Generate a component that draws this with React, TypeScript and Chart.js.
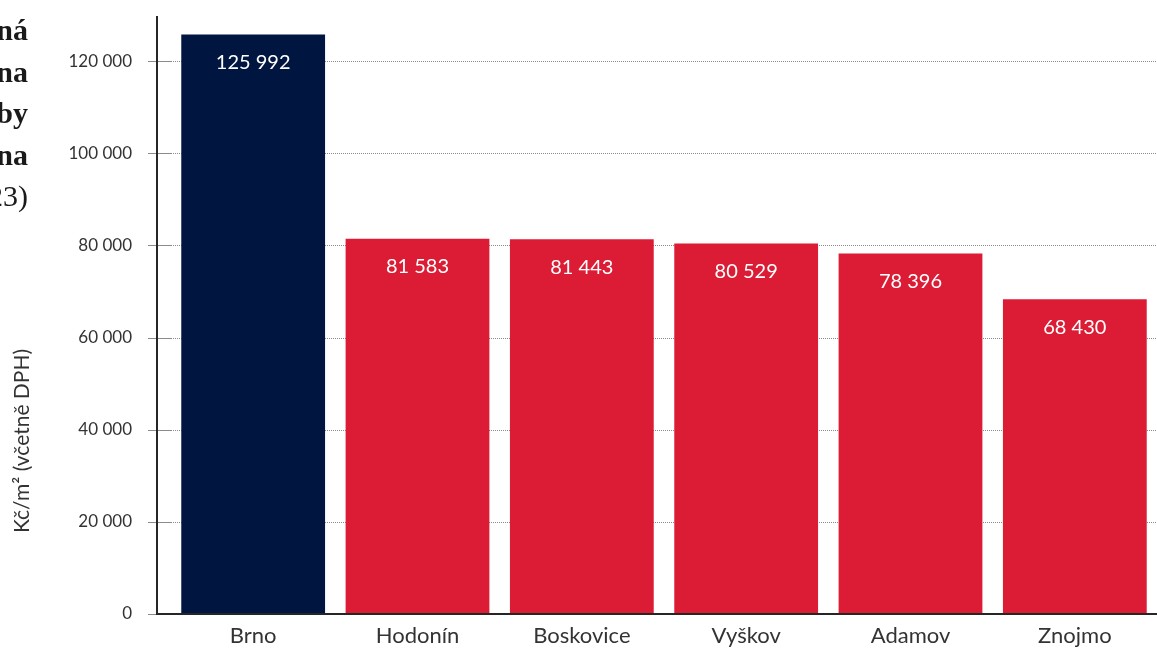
import React, { useEffect, useRef } from "react";
import { Chart, registerables } from "chart.js";

Chart.register(...registerables);

const categories = ["Brno", "Hodonín", "Boskovice", "Vyškov", "Adamov", "Znojmo"];
const values = [125992, 81583, 81443, 80529, 78396, 68430];
const barColors = ["#001540", "#dc1c34", "#dc1c34", "#dc1c34", "#dc1c34", "#dc1c34"];
const yTitle = "Kč/m² (včetně DPH)";
const titleLines = ["Průměrná", "nabídková cena", "novostavby", "okolí Brna", "(1. pololetí 2023)"];
const yMax = 130000;
const yTicks = [0, 20000, 40000, 60000, 80000, 100000, 120000];

const fmt = (v: number) => String(v).replace(/\B(?=(\d{3})+(?!\d))/g, " ");

const FONT = "Lato, 'Open Sans', sans-serif";

const decorPlugin = {
  id: "decor",
  afterDatasetsDraw(chart: any) {
    const { ctx, chartArea, scales } = chart;
    const ys = scales.y;
    const yTop = ys.getPixelForValue(yMax);
    const yZero = ys.getPixelForValue(0);
    const axisX = chartArea.left - 14;
    ctx.save();
    ctx.strokeStyle = "#262626";
    ctx.lineWidth = 2;
    ctx.beginPath();
    ctx.moveTo(axisX, yTop);
    ctx.lineTo(axisX, yZero + 1);
    ctx.moveTo(axisX - 1, yZero);
    ctx.lineTo(chart.width, yZero);
    ctx.stroke();

    const meta = chart.getDatasetMeta(0);
    ctx.fillStyle = "#ffffff";
    ctx.font = `20px ${FONT}`;
    ctx.textAlign = "center";
    ctx.textBaseline = "middle";
    meta.data.forEach((bar: any, i: number) => {
      ctx.fillText(fmt(values[i]), bar.x, bar.y + 28);
    });

    ctx.fillStyle = "#333333";
    ctx.font = `21px ${FONT}`;
    ctx.translate(22, 441);
    ctx.rotate(-Math.PI / 2);
    ctx.textAlign = "center";
    ctx.textBaseline = "middle";
    ctx.fillText(yTitle, 0, 0);
    ctx.restore();

    ctx.save();
    ctx.fillStyle = "#1a1a1a";
    ctx.textAlign = "right";
    ctx.textBaseline = "alphabetic";
    titleLines.forEach((line, i) => {
      ctx.font = i === titleLines.length - 1 ? `30px 'Liberation Serif', serif` : `bold 30px 'Liberation Serif', serif`;
      ctx.fillText(line, 28, 40 + i * 41.5);
    });
    ctx.restore();
  },
};

export default function App() {
  const ref = useRef<HTMLCanvasElement | null>(null);
  useEffect(() => {
    if (!ref.current) return;
    const chart = new Chart(ref.current, {
      type: "bar",
      data: {
        labels: categories,
        datasets: [
          {
            data: values,
            backgroundColor: barColors,
            borderWidth: 0,
            barPercentage: 0.875,
            categoryPercentage: 1,
          },
        ],
      },
      options: {
        animation: false,
        responsive: true,
        maintainAspectRatio: false,
        layout: { padding: { left: 0, right: 0, top: 16, bottom: 0 } },
        plugins: { legend: { display: false }, tooltip: { enabled: false }, title: { display: false } },
        scales: {
          x: {
            type: "category",
            offset: true,
            grid: { display: false, drawTicks: false },
            border: { display: false },
            ticks: { font: { family: FONT, size: 22 }, color: "#333333", padding: 9, maxRotation: 0 },
            afterFit: (s: any) => {
              s.height = 37;
              s.paddingLeft = 0;
              s.paddingRight = 0;
            },
          },
          y: {
            min: 0,
            max: yMax,
            ticks: {
              font: { family: FONT, size: 17 },
              color: "#333333",
              padding: 16,
              callback: (v: any) => fmt(Number(v)),
            },
            grid: { color: "#8a8a8a", lineWidth: 1, tickLength: 23, drawTicks: true },
            border: { display: false, dash: [1, 1] },
            afterBuildTicks: (s: any) => {
              s.ticks = yTicks.map((v) => ({ value: v }));
            },
            afterFit: (s: any) => {
              s.width = 171;
              s.paddingTop = 0;
              s.paddingBottom = 0;
            },
          },
        },
      },
      plugins: [decorPlugin],
    } as any);
    return () => chart.destroy();
  }, []);
  return (
    <div style={{ position: "absolute", left: 0, top: 0, width: 1157, height: 651, background: "#fff" }}>
      <canvas ref={ref} />
    </div>
  );
}
